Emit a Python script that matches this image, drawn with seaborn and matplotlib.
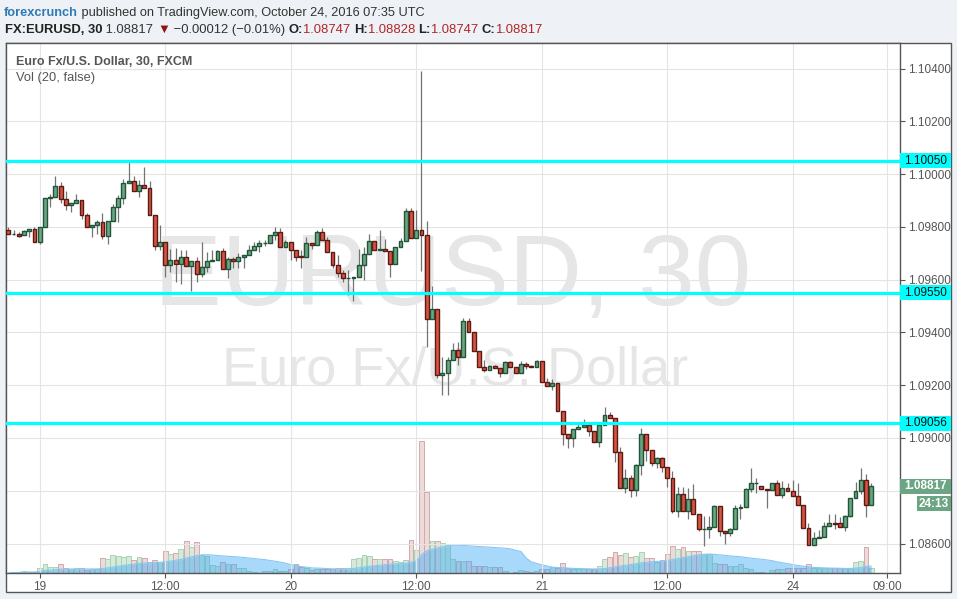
import numpy as np
import pandas as pd
import matplotlib
matplotlib.use("Agg")
import matplotlib.pyplot as plt
import seaborn as sns
from matplotlib.patches import Rectangle
from matplotlib.transforms import Bbox, TransformedBbox, blended_transform_factory

# ---------------- data (EURUSD 30 min, FXCM) ----------------
opens = [
    1.09787, 1.09772, 1.09772, 1.09768, 1.09783, 1.09791, 1.09742, 1.09798, 1.09911, 1.09912,
    1.09954, 1.09904, 1.09882, 1.09889, 1.09901, 1.09844, 1.09798, 1.09806, 1.09817, 1.09764,
    1.09821, 1.09874, 1.09908, 1.09965, 1.09973, 1.09935, 1.09958, 1.09946, 1.09844, 1.09726,
    1.09742, 1.09654, 1.09674, 1.09658, 1.09685, 1.09651, 1.09670, 1.09620, 1.09647, 1.09670,
    1.09674, 1.09709, 1.09639, 1.09677, 1.09670, 1.09685, 1.09692, 1.09712, 1.09726, 1.09738,
    1.09738, 1.09768, 1.09781, 1.09725, 1.09742, 1.09711, 1.09690, 1.09685, 1.09738, 1.09731,
    1.09779, 1.09749, 1.09704, 1.09654, 1.09624, 1.09605, 1.09606, 1.09611, 1.09654, 1.09696,
    1.09745, 1.09711, 1.09717, 1.09707, 1.09660, 1.09723, 1.09745, 1.09859, 1.09757, 1.09787,
    1.09768, 1.09450, 1.09488, 1.09237, 1.09245, 1.09295, 1.09333, 1.09308, 1.09442, 1.09400,
    1.09328, 1.09268, 1.09256, 1.09272, 1.09264, 1.09245, 1.09287, 1.09268, 1.09245, 1.09281,
    1.09272, 1.09268, 1.09291, 1.09211, 1.09196, 1.09207, 1.09101, 1.09016, 1.08999, 1.09033,
    1.09040, 1.09050, 1.09025, 1.08984, 1.09050, 1.09087, 1.09074, 1.08946, 1.08811, 1.08847,
    1.08802, 1.08896, 1.09014, 1.08953, 1.08906, 1.08923, 1.08889, 1.08847, 1.08722, 1.08786,
    1.08724, 1.08767, 1.08711, 1.08654, 1.08654, 1.08661, 1.08741, 1.08646, 1.08640, 1.08654,
    1.08733, 1.08737, 1.08805, 1.08828, 1.08817, 1.08805, 1.08802, 1.08828, 1.08783, 1.08809,
    1.08798, 1.08779, 1.08745, 1.08658, 1.08593, 1.08620, 1.08623, 1.08665, 1.08677, 1.08677,
    1.08661, 1.08703, 1.08771, 1.08798, 1.08840, 1.08747]
highs = [
    1.09800, 1.09788, 1.09779, 1.09788, 1.09793, 1.09798, 1.09798, 1.09911, 1.09925, 1.09993,
    1.09970, 1.09936, 1.09890, 1.09925, 1.09901, 1.09851, 1.09806, 1.09826, 1.09851, 1.09821,
    1.09886, 1.09920, 1.09981, 1.10046, 1.09993, 1.09978, 1.10028, 1.09973, 1.09844, 1.09806,
    1.09742, 1.09715, 1.09719, 1.09712, 1.09712, 1.09670, 1.09687, 1.09743, 1.09704, 1.09712,
    1.09712, 1.09719, 1.09687, 1.09687, 1.09700, 1.09692, 1.09730, 1.09742, 1.09750, 1.09750,
    1.09768, 1.09801, 1.09796, 1.09750, 1.09742, 1.09711, 1.09712, 1.09760, 1.09738, 1.09788,
    1.09795, 1.09763, 1.09704, 1.09693, 1.09637, 1.09637, 1.09611, 1.09715, 1.09725, 1.09773,
    1.09745, 1.09787, 1.09753, 1.09707, 1.09723, 1.09757, 1.09870, 1.09870, 1.09863, 1.10390,
    1.09823, 1.09576, 1.09488, 1.09308, 1.09308, 1.09359, 1.09365, 1.09453, 1.09453, 1.09400,
    1.09328, 1.09295, 1.09276, 1.09278, 1.09264, 1.09292, 1.09292, 1.09268, 1.09292, 1.09287,
    1.09276, 1.09295, 1.09291, 1.09226, 1.09222, 1.09207, 1.09101, 1.09016, 1.09033, 1.09058,
    1.09071, 1.09050, 1.09025, 1.09050, 1.09116, 1.09097, 1.09074, 1.08967, 1.08882, 1.08860,
    1.08902, 1.09037, 1.09014, 1.08953, 1.08929, 1.08929, 1.08889, 1.08876, 1.08813, 1.08813,
    1.08810, 1.08825, 1.08711, 1.08704, 1.08704, 1.08745, 1.08741, 1.08646, 1.08660, 1.08745,
    1.08750, 1.08810, 1.08885, 1.08847, 1.08817, 1.08805, 1.08828, 1.08841, 1.08836, 1.08828,
    1.08841, 1.08828, 1.08745, 1.08677, 1.08645, 1.08651, 1.08683, 1.08712, 1.08712, 1.08699,
    1.08708, 1.08771, 1.08833, 1.08885, 1.08863, 1.08828]
lows = [
    1.09772, 1.09768, 1.09760, 1.09768, 1.09763, 1.09742, 1.09734, 1.09798, 1.09874, 1.09912,
    1.09890, 1.09864, 1.09856, 1.09889, 1.09831, 1.09798, 1.09763, 1.09772, 1.09753, 1.09736,
    1.09821, 1.09817, 1.09886, 1.09965, 1.09935, 1.09914, 1.09946, 1.09844, 1.09712, 1.09712,
    1.09610, 1.09630, 1.09592, 1.09582, 1.09651, 1.09558, 1.09592, 1.09609, 1.09630, 1.09670,
    1.09674, 1.09639, 1.09605, 1.09643, 1.09643, 1.09643, 1.09692, 1.09712, 1.09706, 1.09727,
    1.09738, 1.09750, 1.09725, 1.09725, 1.09674, 1.09672, 1.09643, 1.09685, 1.09715, 1.09731,
    1.09749, 1.09704, 1.09643, 1.09611, 1.09592, 1.09542, 1.09520, 1.09611, 1.09599, 1.09696,
    1.09711, 1.09711, 1.09707, 1.09611, 1.09659, 1.09723, 1.09745, 1.09757, 1.09757, 1.09634,
    1.09346, 1.09450, 1.09226, 1.09163, 1.09163, 1.09295, 1.09276, 1.09308, 1.09400, 1.09328,
    1.09268, 1.09251, 1.09256, 1.09264, 1.09232, 1.09245, 1.09268, 1.09245, 1.09245, 1.09260,
    1.09268, 1.09268, 1.09211, 1.09196, 1.09182, 1.09101, 1.08972, 1.08961, 1.08965, 1.09033,
    1.09040, 1.09006, 1.08984, 1.08967, 1.09050, 1.09074, 1.08910, 1.08811, 1.08790, 1.08777,
    1.08781, 1.08861, 1.08914, 1.08895, 1.08885, 1.08870, 1.08815, 1.08717, 1.08702, 1.08724,
    1.08692, 1.08711, 1.08647, 1.08592, 1.08622, 1.08661, 1.08628, 1.08597, 1.08628, 1.08654,
    1.08692, 1.08737, 1.08796, 1.08790, 1.08805, 1.08733, 1.08802, 1.08783, 1.08774, 1.08798,
    1.08779, 1.08745, 1.08658, 1.08593, 1.08593, 1.08620, 1.08623, 1.08665, 1.08654, 1.08661,
    1.08646, 1.08699, 1.08771, 1.08788, 1.08699, 1.08747]
closes = [
    1.09772, 1.09773, 1.09767, 1.09783, 1.09791, 1.09742, 1.09798, 1.09911, 1.09911, 1.09954,
    1.09904, 1.09882, 1.09889, 1.09901, 1.09844, 1.09798, 1.09806, 1.09817, 1.09764, 1.09821,
    1.09874, 1.09908, 1.09965, 1.09973, 1.09935, 1.09958, 1.09946, 1.09844, 1.09726, 1.09742,
    1.09654, 1.09674, 1.09658, 1.09685, 1.09651, 1.09670, 1.09620, 1.09647, 1.09670, 1.09674,
    1.09709, 1.09639, 1.09677, 1.09670, 1.09685, 1.09692, 1.09712, 1.09726, 1.09738, 1.09739,
    1.09768, 1.09781, 1.09725, 1.09742, 1.09711, 1.09687, 1.09685, 1.09738, 1.09731, 1.09779,
    1.09749, 1.09704, 1.09654, 1.09624, 1.09605, 1.09606, 1.09611, 1.09654, 1.09696, 1.09745,
    1.09711, 1.09717, 1.09707, 1.09660, 1.09723, 1.09745, 1.09859, 1.09757, 1.09787, 1.09768,
    1.09450, 1.09488, 1.09237, 1.09245, 1.09295, 1.09333, 1.09308, 1.09442, 1.09400, 1.09328,
    1.09268, 1.09256, 1.09272, 1.09264, 1.09245, 1.09287, 1.09268, 1.09245, 1.09281, 1.09272,
    1.09268, 1.09291, 1.09211, 1.09196, 1.09207, 1.09101, 1.09016, 1.08999, 1.09033, 1.09040,
    1.09050, 1.09025, 1.08984, 1.09050, 1.09086, 1.09074, 1.08946, 1.08811, 1.08847, 1.08802,
    1.08896, 1.09014, 1.08953, 1.08906, 1.08923, 1.08889, 1.08847, 1.08722, 1.08786, 1.08724,
    1.08767, 1.08711, 1.08654, 1.08654, 1.08661, 1.08741, 1.08646, 1.08640, 1.08654, 1.08733,
    1.08737, 1.08805, 1.08828, 1.08828, 1.08805, 1.08802, 1.08828, 1.08783, 1.08809, 1.08798,
    1.08779, 1.08745, 1.08658, 1.08593, 1.08620, 1.08623, 1.08665, 1.08677, 1.08675, 1.08661,
    1.08703, 1.08771, 1.08798, 1.08840, 1.08745, 1.08817]
volumes = [
    1, 3, 4, 7, 4, 4, 15, 28, 20, 20,
    28, 17, 14, 16, 16, 9, 13, 14, 44, 41,
    55, 52, 47, 52, 38, 47, 44, 32, 38, 32,
    65, 56, 61, 71, 95, 77, 92, 55, 50, 25,
    23, 32, 29, 27, 17, 17, 8, 5, 2, 8,
    8, 14, 8, 8, 14, 29, 20, 17, 9, 14,
    12, 13, 13, 17, 15, 17, 41, 44, 53, 50,
    41, 41, 41, 41, 35, 32, 38, 98, 68, 392,
    242, 95, 95, 89, 85, 41, 35, 37, 37, 23,
    23, 23, 19, 19, 19, 7, 2, 5, 11, 7,
    3, 7, 14, 14, 18, 15, 31, 15, 14, 14,
    14, 14, 14, 23, 41, 47, 62, 53, 60, 47,
    50, 62, 46, 46, 33, 40, 58, 80, 71, 77,
    65, 65, 65, 57, 57, 31, 28, 28, 22, 22,
    29, 15, 13, 5, 5, 2, 11, 12, 14, 17,
    17, 17, 17, 27, 17, 17, 15, 15, 17, 17,
    15, 17, 34, 37, 77, 15]

tick_pos = [6, 30, 54, 78, 102, 126, 150, 168]
tick_labels = ["19", "12:00", "20", "12:00", "21", "12:00", "24", "09:00"]
price_ticks = [1.104, 1.102, 1.100, 1.098, 1.096, 1.094, 1.092, 1.090, 1.088, 1.086]
price_labels = ["1.10400", "1.10200", "1.10000", "1.09800", "1.09600", "1.09400",
                "1.09200", "1.09000", "", "1.08600"]
levels = [1.10050, 1.09550, 1.09056]
level_labels = ["1.10050", "1.09550", "1.09056"]
last_price = 1.08817

# ---------------- styling ----------------
sns.set_style("white")
plt.rcParams["font.family"] = ["Liberation Sans", "DejaVu Sans"]

W, H = 957, 599
fig = plt.figure(figsize=(W / 100, H / 100), dpi=100)
fig.patch.set_facecolor("#eef1f5")


def fx(px):
    return px / W


def fy(py):
    return 1 - py / H


# outer chart frame
fig.add_artist(Rectangle((fx(6), fy(592.3)), fx(951) - fx(6), fy(43.3) - fy(592.3),
                         transform=fig.transFigure, fc="white", ec="#555555", lw=1, zorder=-5))

rect = [fx(6), fy(573.3), fx(900) - fx(6), fy(43.3) - fy(573.3)]
vax = fig.add_axes(rect)
ax = fig.add_axes(rect)
ax.patch.set_visible(False)

df = pd.DataFrame({"open": opens, "high": highs, "low": lows, "close": closes, "vol": volumes})
df["x"] = np.arange(len(df))
df["up"] = df["close"] >= df["open"]
df["ma"] = df["vol"].rolling(20, min_periods=1).mean()

xmin, xmax = -0.44, 170.5

# ---------------- volume ----------------
vax.bar(df["x"], df["vol"], width=0.92,
        color=np.where(df["up"], "#d5eadb", "#eddada"),
        edgecolor=np.where(df["up"], "#a9d3b3", "#d3a9a9"), linewidth=0.7)
vax.fill_between(df["x"], df["ma"], color="#3fa9f5", alpha=0.45, lw=0)
sns.lineplot(x=df["x"], y=df["ma"], ax=vax, color="#86c8f4", lw=0.8)
vax.set_xlim(xmin, xmax)
vax.set_ylim(0, 1570)
vax.set_xticks([])
vax.set_yticks([])
vax.set_xlabel("")
vax.set_ylabel("")
for s in vax.spines.values():
    s.set_visible(False)

# ---------------- watermark ----------------
ax.text(0.499, 0.506, "EURUSD, 30", transform=ax.transAxes, ha="center", va="baseline",
        fontsize=73, color="#e6e6e6", zorder=1)
ax.text(0.502, 0.357, "Euro Fx/U.S. Dollar", transform=ax.transAxes, ha="center", va="baseline",
        fontsize=39, color="#e6e6e6", zorder=1)

# ---------------- candles ----------------
ax.vlines(df["x"], df["low"], df["high"], color="#737375", lw=0.9, zorder=3)
body_bottom = df[["open", "close"]].min(axis=1)
body_h = (df["close"] - df["open"]).abs().clip(lower=0.00002)
ax.bar(df["x"], body_h, bottom=body_bottom, width=0.74,
       color=np.where(df["up"], "#6ba583", "#d75442"),
       edgecolor=np.where(df["up"], "#225437", "#5b1a13"), linewidth=1.0, zorder=4)

for lv in levels:
    ax.axhline(lv, color="#00ffff", lw=2.3, zorder=5)

ax.set_xlim(xmin, xmax)
ax.set_ylim(1.084873, 1.104956)
ax.set_xticks(tick_pos, tick_labels)
ax.set_yticks(price_ticks, price_labels)
ax.yaxis.tick_right()
ax.grid(True, color="#e4e4e4", lw=0.8)
ax.tick_params(axis="both", which="both", length=3.5, width=0.8, color="#555555",
               labelcolor="#555555", labelsize=8.5, pad=2)
ax.tick_params(axis="x", bottom=True, pad=2)
ax.tick_params(axis="y", right=True, left=False, pad=2)
for s in ax.spines.values():
    s.set_color("#555555")
    s.set_linewidth(1)

# ---------------- price scale labels ----------------
bt = blended_transform_factory(ax.transAxes, ax.transData)
box_h = 15 / 26390
box_w = (951 - 900) / 894
for lv, lab in zip(levels, level_labels):
    ax.add_patch(Rectangle((1.0, lv - box_h / 2), box_w, box_h, transform=bt,
                           fc="#00ffff", ec="none", clip_on=False, zorder=8))
    ax.text(1.0 + box_w / 2, lv, lab, transform=bt, ha="center", va="center",
            fontsize=8.5, color="#111111", clip_on=False, zorder=9)

ax.add_patch(Rectangle((1.0, last_price - box_h / 2), box_w, box_h, transform=bt,
                       fc="#6ba583", ec="none", clip_on=False, zorder=8))
ax.text(1.0 + box_w / 2, last_price, "1.08817", transform=bt, ha="center", va="center",
        fontsize=8.5, color="white", fontweight="bold", clip_on=False, zorder=9)
timer_y = 1.08750
timer_x0 = (917 - 6) / 894
ax.add_patch(Rectangle((timer_x0, timer_y - box_h / 2), 1.0 + box_w - timer_x0, box_h,
                       transform=bt, fc="#6ba583", ec="none", clip_on=False, zorder=8))
ax.text((timer_x0 + 1.0 + box_w) / 2, timer_y, "24:13", transform=bt, ha="center",
        va="center", fontsize=8.5, color="white", fontweight="bold", clip_on=False, zorder=9)

# ---------------- legend texts inside the pane ----------------
fig.text(fx(16), fy(62), "Euro Fx/U.S. Dollar, 30, FXCM", fontsize=9, fontweight="bold",
         color="#555555", va="center")
fig.text(fx(16), fy(78), "Vol (20, false)", fontsize=9.3, color="#555555", va="center")

# ---------------- header ----------------
renderer = fig.canvas.get_renderer()


def chain(x_px, y_px, parts, size):
    for s, color, weight in parts:
        t = fig.text(fx(x_px), fy(y_px), s, color=color, fontsize=size,
                     fontweight=weight, va="center", ha="left")
        x_px += t.get_window_extent(renderer).width
    return x_px


chain(4, 13, [("forexcrunch", "#2f7ab5", "bold"),
              (" published on TradingView.com, October 24, 2016 07:35 UTC", "#333333", "normal")], 9.2)

red = "#b0272a"
chain(5, 30, [("FX:EURUSD, 30", "#222222", "bold"),
              (" 1.08817 ", "#333333", "normal"),
              ("▼", "#8b1414", "normal"),
              (" \u22120.00012 (\u22120.01%) ", "#333333", "normal"),
              ("O:", "#222222", "bold"), ("1.08747 ", red, "normal"),
              ("H:", "#222222", "bold"), ("1.08828 ", red, "normal"),
              ("L:", "#222222", "bold"), ("1.08747 ", red, "normal"),
              ("C:", "#222222", "bold"), ("1.08817", red, "normal")], 9.4)

fig.savefig("out.png", dpi=100, facecolor=fig.get_facecolor())
